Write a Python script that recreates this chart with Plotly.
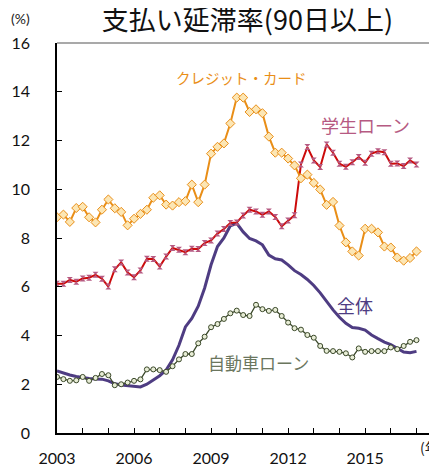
import plotly.graph_objects as go

start_year = 2003
n_quarters = 57
quarters = [start_year + 0.25 * i for i in range(n_quarters)]

credit_card = [8.85, 8.96, 8.66, 9.23, 9.28, 8.85, 8.64, 9.16, 9.58, 9.22, 9.07, 8.52, 8.79, 8.99, 9.16,
               9.65, 9.75, 9.37, 9.33, 9.47, 9.51, 10.19, 9.47, 10.19, 11.46, 11.74, 11.88, 12.70, 13.76,
               13.76, 13.17, 13.28, 13.12, 12.16, 11.50, 11.50, 11.26, 10.98, 10.45, 10.60, 10.26, 9.99,
               9.36, 9.48, 8.51, 7.82, 7.45, 7.28, 8.38, 8.38, 8.23, 7.65, 7.61, 7.20, 7.07, 7.18, 7.45]
student_loan = [6.12, 6.12, 6.28, 6.21, 6.34, 6.37, 6.49, 6.33, 6.01, 6.72, 7.00, 6.58, 6.39, 6.67, 7.15,
                7.14, 6.83, 7.24, 7.59, 7.52, 7.42, 7.56, 7.55, 7.79, 7.90, 8.18, 8.37, 8.62, 8.64, 8.92,
                9.16, 9.09, 8.95, 9.09, 8.86, 8.48, 8.72, 8.93, 11.02, 11.73, 11.18, 10.91, 11.84, 11.50,
                11.05, 10.92, 11.11, 11.32, 11.09, 11.46, 11.56, 11.52, 11.05, 11.06, 10.95, 11.18, 11.02]
auto_loan = [2.30, 2.21, 2.14, 2.16, 2.30, 2.14, 2.26, 2.42, 2.37, 1.96, 2.00, 2.07, 2.14, 2.20, 2.61,
             2.61, 2.58, 2.51, 2.74, 3.02, 3.24, 3.24, 3.68, 3.95, 4.34, 4.47, 4.68, 4.91, 5.02, 4.84,
             4.80, 5.26, 5.08, 5.01, 5.05, 4.80, 4.53, 4.30, 4.24, 4.02, 3.91, 3.57, 3.37, 3.36, 3.33,
             3.27, 3.10, 3.47, 3.33, 3.36, 3.36, 3.36, 3.51, 3.44, 3.57, 3.74, 3.81]
total = [2.55, 2.46, 2.38, 2.32, 2.27, 2.24, 2.22, 2.21, 2.14, 2.02, 1.97, 1.94, 1.91, 1.89, 2.00,
         2.17, 2.35, 2.58, 3.00, 3.60, 4.35, 4.70, 5.20, 5.95, 6.90, 7.65, 8.00, 8.50, 8.60, 8.25,
         7.98, 7.88, 7.72, 7.30, 7.15, 7.10, 6.90, 6.66, 6.50, 6.30, 6.05, 5.75, 5.38, 5.05, 4.75,
         4.50, 4.33, 4.30, 4.22, 4.02, 3.87, 3.73, 3.63, 3.48, 3.32, 3.29, 3.35]

year_ticks = list(range(2003, 2019))
year_labels = ["2003", "", "", "2006", "", "", "2009", "", "", "2012", "", "", "2015", "", "", ""]
y_ticks = [0, 2, 4, 6, 8, 10, 12, 14, 16]

title_text = "支払い延滞率(90日以上)"
labels = {
    "credit": "クレジット・カード",
    "student": "学生ローン",
    "total": "全体",
    "auto": "自動車ローン",
}

C_ORANGE = "#E98E17"
C_RED = "#CC0A0A"
C_MAUVE = "#B65A82"
C_PURPLE = "#4E3C82"
C_OLIVE = "#3A4829"
C_OLIVE_TXT = "#6B765E"

JP = "Noto Sans CJK JP"
NUM = "Lato"

fig = go.Figure()
fig.add_trace(go.Scatter(x=quarters, y=total, mode="lines",
                         line=dict(color=C_PURPLE, width=3), hoverinfo="skip"))
fig.add_trace(go.Scatter(x=quarters, y=auto_loan, mode="lines+markers",
                         line=dict(color=C_OLIVE, width=1.3),
                         marker=dict(symbol="circle", size=5, color="#E8EDD6",
                                     line=dict(color=C_OLIVE, width=1))))
fig.add_trace(go.Scatter(x=quarters, y=student_loan, mode="lines+markers",
                         line=dict(color=C_RED, width=2),
                         marker=dict(symbol="hourglass", size=6, color=C_MAUVE,
                                     line=dict(width=0))))
fig.add_trace(go.Scatter(x=quarters, y=credit_card, mode="lines+markers",
                         line=dict(color=C_ORANGE, width=2),
                         marker=dict(symbol="diamond", size=7, color="#FCE6B4",
                                     line=dict(color=C_ORANGE, width=1))))

fig.add_annotation(x=2010.18, y=14.58, text=labels["credit"], showarrow=False,
                   font=dict(family=JP, size=14.5, color=C_ORANGE))
fig.add_annotation(x=2015.01, y=12.65, text=labels["student"], showarrow=False,
                   font=dict(family=JP, size=18, color=C_MAUVE))
fig.add_annotation(x=2014.62, y=5.25, text=labels["total"], showarrow=False,
                   font=dict(family=JP, size=18, color=C_PURPLE))
fig.add_annotation(x=2010.84, y=2.91, text=labels["auto"], showarrow=False,
                   font=dict(family=JP, size=17, color=C_OLIVE_TXT))

fig.add_annotation(xref="paper", yref="paper", x=-0.095, y=1.064, xanchor="center", yanchor="middle",
                   text="(%)", showarrow=False, font=dict(family=NUM, size=14, color="#222"))
fig.add_annotation(xref="paper", yref="paper", x=0.930, y=-0.036, xanchor="left", yanchor="middle",
                   text="(年)", showarrow=False, font=dict(family=JP, size=14, color="#222"))

fig.add_shape(type="line", xref="paper", yref="paper", x0=0, x1=1, y0=1, y1=1,
              line=dict(color="#8C8C8C", width=1.5))

fig.update_layout(
    width=437, height=469,
    margin=dict(l=49, r=0, t=35, b=44, autoexpand=False),
    paper_bgcolor="white", plot_bgcolor="white",
    showlegend=False,
    title=dict(text=title_text, x=0.548, xanchor="center", y=0.974, yanchor="middle",
               font=dict(family=JP, size=27, color="#111")),
    xaxis=dict(range=[2003, 2018.11], tickmode="array", tickvals=year_ticks, ticktext=year_labels,
               ticks="inside", ticklen=5, tickcolor="#000", tickwidth=1,
               showline=True, linecolor="#000", linewidth=1.5, showgrid=False, zeroline=False,
               tickfont=dict(family=NUM, size=16, color="#111"), ticklabelstandoff=10,
               automargin=False),
    yaxis=dict(range=[0, 16], tickmode="array", tickvals=y_ticks,
               ticks="inside", ticklen=5, tickcolor="#000", tickwidth=1,
               showline=True, linecolor="#000", linewidth=1.5, showgrid=False, zeroline=False,
               tickfont=dict(family=NUM, size=16, color="#111"), ticklabelstandoff=22,
               automargin=False),
)

fig.write_html("out.html")
